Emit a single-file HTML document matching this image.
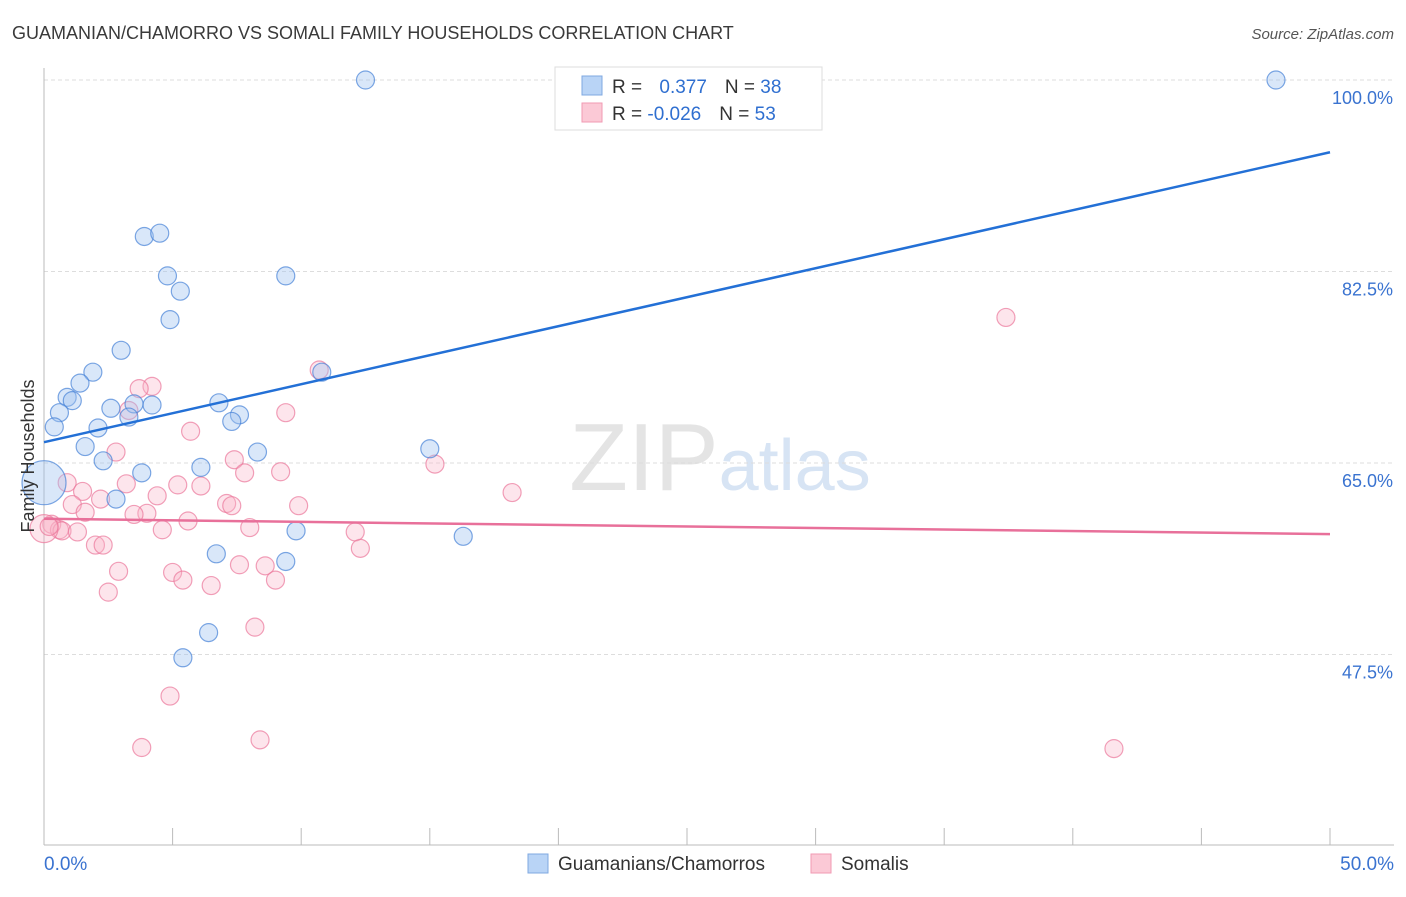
<!DOCTYPE html>
<html><head><meta charset="utf-8"><style>
body{margin:0;background:#fff;font-family:"Liberation Sans",sans-serif;}
svg text{font-family:"Liberation Sans",sans-serif;}
</style></head><body>
<svg id="chart" width="1406" height="892" xmlns="http://www.w3.org/2000/svg">
<text x="12" y="39" font-size="18" fill="#3a3a3a">GUAMANIAN/CHAMORRO VS SOMALI FAMILY HOUSEHOLDS CORRELATION CHART</text>
<text x="1394" y="39" font-size="15" fill="#555" font-style="italic" text-anchor="end">Source: ZipAtlas.com</text>
<text x="720" y="490" font-size="96" fill="#e4e4e4" text-anchor="middle" font-family="Liberation Serif">ZIP<tspan fill="#d7e4f4" font-family="Liberation Sans" font-size="72">atlas</tspan></text>
<g id="grid"></g><g id="axes"></g><g id="marks"></g>
<text transform="translate(34,456) rotate(-90)" font-size="18" fill="#333" text-anchor="middle">Family Households</text>
<g>
<rect x="555" y="67" width="267" height="63" fill="#fff" stroke="#ddd"/>
<rect x="582" y="76" width="20" height="19" fill="#b9d4f6" stroke="#7fa8e0"/>
<rect x="582" y="103" width="20" height="19" fill="#fbc9d6" stroke="#f09ab3"/>
<text x="612" y="93" font-size="19" fill="#333">R = <tspan fill="#2f6fd0" dx="12">0.377</tspan><tspan fill="#333" dx="18">N = </tspan><tspan fill="#2f6fd0">38</tspan></text>
<text x="612" y="120" font-size="19" fill="#333">R = <tspan fill="#2f6fd0">-0.026</tspan><tspan fill="#333" dx="18">N = </tspan><tspan fill="#2f6fd0">53</tspan></text>
</g>
<g>
<rect x="528" y="854" width="20" height="19" fill="#b9d4f6" stroke="#7fa8e0"/>
<text x="558" y="870" font-size="19" fill="#333">Guamanians/Chamorros</text>
<rect x="811" y="854" width="20" height="19" fill="#fbc9d6" stroke="#f09ab3"/>
<text x="841" y="870" font-size="19" fill="#333">Somalis</text>
</g>
</svg>
<script>
const yTicks=[100,82.5,65,47.5];
const yTickLabels=["100.0%","82.5%","65.0%","47.5%"];
const xTickLabels=["0.0%","50.0%"];
const blueX=[12.5,47.9,3.9,4.5,4.8,5.3,4.9,9.4,3.0,1.9,1.4,0.9,1.1,0.6,0.4,2.6,4.2,3.5,3.3,6.8,7.6,7.3,10.8,2.1,1.6,2.3,3.8,6.1,8.3,15.0,0,2.8,9.8,16.3,6.7,9.4,6.4,5.4];
const blueY=[100,100,85.7,86.0,82.1,80.7,78.1,82.1,75.3,73.3,72.3,71.0,70.7,69.6,68.3,70.0,70.3,70.4,69.2,70.5,69.4,68.8,73.3,68.2,66.5,65.2,64.1,64.6,66.0,66.3,63.2,61.7,58.8,58.3,56.7,56.0,49.5,47.2];
const pinkX=[37.4,10.7,4.2,3.7,3.3,9.4,5.7,2.8,7.4,15.2,7.8,9.2,0.9,3.2,5.2,6.1,1.5,18.2,4.4,2.2,1.1,7.1,7.3,9.9,1.6,4.0,3.5,5.6,0.3,0.6,0.7,1.3,4.6,8.0,12.1,2.0,2.3,12.3,2.9,5.0,7.6,8.6,5.4,9.0,6.5,2.5,8.2,4.9,3.8,8.4,41.6,0,0.2];
const pinkY=[78.3,73.5,72.0,71.8,69.8,69.6,67.9,66.0,65.3,64.9,64.1,64.2,63.2,63.1,63.0,62.9,62.4,62.3,62.0,61.7,61.2,61.3,61.1,61.1,60.5,60.4,60.3,59.7,59.4,58.9,58.8,58.7,58.9,59.1,58.7,57.5,57.5,57.2,55.1,55.0,55.7,55.6,54.3,54.3,53.8,53.2,50.0,43.7,39.0,39.7,38.9,59.0,59.2];
const blueTrend=[66.9,93.4];
const pinkTrend=[59.9,58.5];
const NS="http://www.w3.org/2000/svg";
const X=v=>44+v/50*1286;
const Y=v=>80+(100-v)/17.5*191.5;
function mk(tag,attrs,parent){const e=document.createElementNS(NS,tag);for(const k in attrs)e.setAttribute(k,attrs[k]);document.getElementById(parent).appendChild(e);return e;}
yTicks.forEach((t,i)=>{
 const g=mk('line',{x1:44,x2:1394,y1:Y(t),y2:Y(t),stroke:'#ddd','stroke-dasharray':'4,3'},'grid');
 
 
 const l=mk('text',{x:1393,y:Y(t)+24,'font-size':18,fill:'#3a73d0','text-anchor':'end'},'axes');
 l.textContent=yTickLabels[i];
 
 
});
const ya=mk('line',{x1:44,x2:44,y1:68,y2:845,stroke:'#bbb'},'axes');


const xa=mk('line',{x1:44,x2:1394,y1:845,y2:845,stroke:'#bbb'},'axes');


for(let i=0;i<=10;i++){const t=mk('line',{x1:X(i*5),x2:X(i*5),y1:828,y2:845,stroke:'#bbb'},'axes');
 
 }
[[0,'start',44],[50,'end',1394]].forEach((d,i)=>{const l=mk('text',{x:d[2],y:870,'font-size':19,fill:'#3a73d0','text-anchor':d[1]},'axes');
 l.textContent=xTickLabels[i];
 
 });
pinkX.forEach((x,i)=>{const r=(x===0)?14:9;const c=mk('circle',{cx:X(x),cy:Y(pinkY[i]),r:r,fill:'rgba(248,180,200,0.35)',stroke:'rgba(235,120,155,0.7)','stroke-width':1.2},'marks');
 
 });
blueX.forEach((x,i)=>{const r=(x===0)?22:9;const c=mk('circle',{cx:X(x),cy:Y(blueY[i]),r:r,fill:'rgba(160,195,240,0.4)',stroke:'rgba(70,130,215,0.7)','stroke-width':1.2},'marks');
 
 });
const bt=mk('line',{x1:X(0),y1:Y(blueTrend[0]),x2:X(50),y2:Y(blueTrend[1]),stroke:'#2370d6','stroke-width':2.5},'marks');


const pt=mk('line',{x1:X(0),y1:Y(pinkTrend[0]),x2:X(50),y2:Y(pinkTrend[1]),stroke:'#e8709a','stroke-width':2.5},'marks');


</script>
</body></html>
